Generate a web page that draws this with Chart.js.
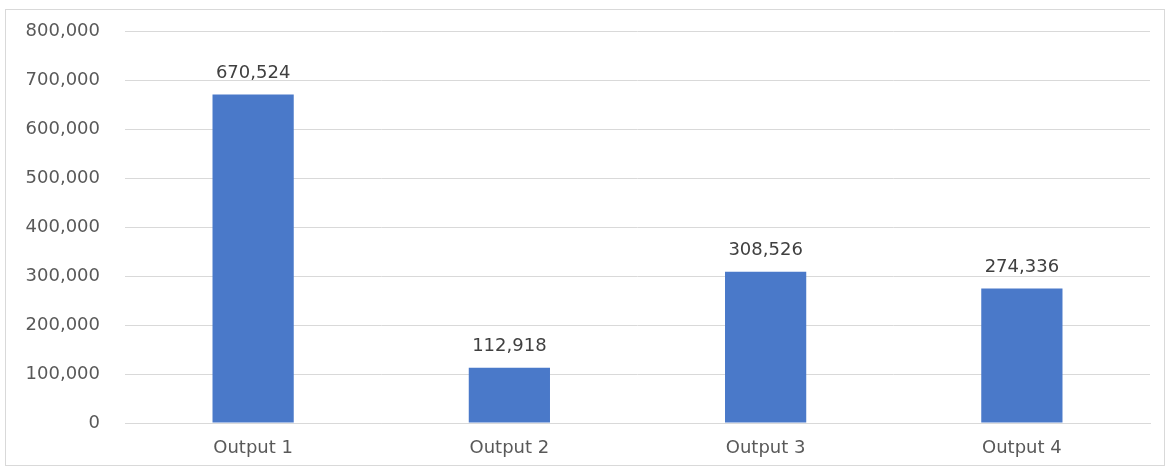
<!DOCTYPE html>
<html>
<head>
<meta charset="utf-8">
<script src="https://cdn.jsdelivr.net/npm/chart.js@4/dist/chart.umd.min.js"></script>
<style>
  html, body { margin: 0; padding: 0; background: #fff; }
  #frame { position: absolute; left: 5px; top: 9px; width: 1160px; height: 457px; border: 1px solid #d9d9d9; box-sizing: border-box; }
  #wrap { position: absolute; left: 0; top: 0; width: 1166px; height: 468px; }
</style>
</head>
<body>
<div id="frame"></div>
<div id="wrap"><canvas id="barChart"></canvas></div>
<script>
// data
const categories = ['Output 1', 'Output 2', 'Output 3', 'Output 4'];
const values = [670524, 112918, 308526, 274336];
const yMin = 0;
const yMax = 800000;
const yStep = 100000;

const fontFamily = '"DejaVu Sans", sans-serif';
const fmt = v => v.toLocaleString('en-US');

// value labels above each bar
const barLabels = {
    id: 'barLabels',
    afterDatasetsDraw(chart) {
        const ctx = chart.ctx;
        const meta = chart.getDatasetMeta(0);
        ctx.save();
        ctx.font = '18px ' + fontFamily;
        ctx.fillStyle = '#404040';
        ctx.textAlign = 'center';
        ctx.textBaseline = 'bottom';
        meta.data.forEach((bar, i) => {
            ctx.fillText(fmt(values[i]), bar.x, bar.y - 12);
        });
        ctx.restore();
    }
};

const ctx = document.getElementById('barChart').getContext('2d');
new Chart(ctx, {
    type: 'bar',
    data: {
        labels: categories,
        datasets: [{
            data: values,
            backgroundColor: '#4a79c9',
            borderWidth: 0,
            categoryPercentage: 1,
            barPercentage: 0.317
        }]
    },
    options: {
        responsive: true,
        maintainAspectRatio: false,
        animation: false,
        layout: { padding: { left: 0, right: 16, top: 31, bottom: 0 } },
        plugins: {
            legend: { display: false },
            tooltip: { enabled: false }
        },
        scales: {
            x: {
                afterFit(scale) { scale.height = 45; },
                grid: { display: false, drawTicks: false },
                border: { display: true, color: '#d9d9d9' },
                ticks: { color: '#595959', font: { family: fontFamily, size: 18 }, padding: 15 }
            },
            y: {
                min: yMin,
                max: yMax,
                afterFit(scale) {
                    scale.width = 125;
                    scale.paddingTop = 0;
                    scale.paddingBottom = 0;
                },
                grid: { color: '#d9d9d9', drawTicks: false },
                border: { display: false },
                ticks: {
                    stepSize: yStep,
                    color: '#595959',
                    font: { family: fontFamily, size: 18 },
                    padding: 25,
                    callback: v => fmt(v)
                }
            }
        }
    },
    plugins: [barLabels]
});
</script>
</body>
</html>
